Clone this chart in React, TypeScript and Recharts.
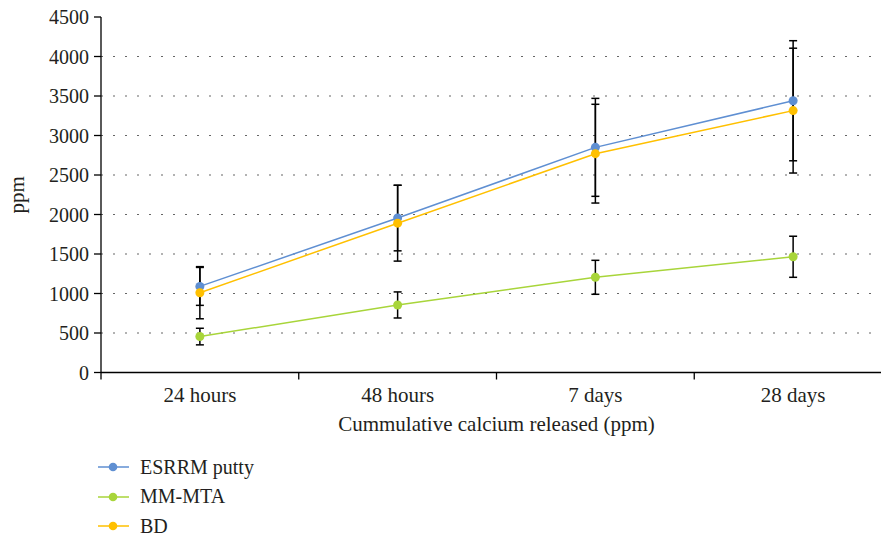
import { LineChart, Line, XAxis, YAxis, ReferenceLine, ErrorBar, Legend } from 'recharts';

const categories = ['24 hours', '48 hours', '7 days', '28 days'];
const esrrmPutty = [1090, 1955, 2850, 3440];
const esrrmErr = [240, 415, 620, 760];
const mmMta = [455, 855, 1205, 1465];
const mmMtaErr = [105, 165, 215, 260];
const bd = [1010, 1890, 2770, 3315];
const bdErr = [330, 480, 625, 790];
const yTicks = [0, 500, 1000, 1500, 2000, 2500, 3000, 3500, 4000, 4500];
const gridValues = [500, 1000, 1500, 2000, 2500, 3000, 3500, 4000];

const series = [
  { key: 'esrrm', err: 'esrrmErr', name: 'ESRRM putty', color: '#5f8fd2' },
  { key: 'mmMta', err: 'mmMtaErr', name: 'MM-MTA', color: '#a8d53a' },
  { key: 'bd', err: 'bdErr', name: 'BD', color: '#ffc000' },
];

const data = categories.map((c, i) => ({
  cat: c,
  esrrm: esrrmPutty[i],
  esrrmErr: esrrmErr[i],
  mmMta: mmMta[i],
  mmMtaErr: mmMtaErr[i],
  bd: bd[i],
  bdErr: bdErr[i],
}));

const CHART_W = 900;
const CHART_H = 537;
const Y_AXIS_W = 101;
const MARGIN = { top: 17, right: 8, bottom: 16, left: 0 };
const BAND = (CHART_W - Y_AXIS_W - MARGIN.left - MARGIN.right) / categories.length;
const TICK_SIZE = 7;
const TICK_MARGIN = 8;
const FONT = '"Liberation Serif", Tinos, "DejaVu Serif", serif';

function CategoryTick(props: any) {
  const { x, y, payload, index } = props;
  const axisY = y - TICK_SIZE - TICK_MARGIN;
  return (
    <g>
      <line x1={x - BAND / 2} x2={x - BAND / 2} y1={axisY} y2={axisY + 7} stroke="#000" strokeWidth={1.3} />
      {index === categories.length - 1 && (
        <line x1={x + BAND / 2} x2={x + BAND / 2} y1={axisY} y2={axisY + 7} stroke="#000" strokeWidth={1.3} />
      )}
      <text x={x} y={y} dy="0.71em" textAnchor="middle" fill="#231f20" fontSize={21} fontFamily={FONT}>
        {payload.value}
      </text>
    </g>
  );
}

function LegendContent() {
  return (
    <div style={{ fontFamily: FONT, fontSize: 20, color: '#231f20' }}>
      {series.map((s) => (
        <div key={s.key} style={{ height: 29.5, display: 'flex', alignItems: 'center' }}>
          <svg width={44} height={12} style={{ display: 'block' }}>
            <line x1={2} x2={33} y1={6} y2={6} stroke={s.color} strokeWidth={1.5} />
            <circle cx={17} cy={6} r={4.3} fill={s.color} />
          </svg>
          <span>{s.name}</span>
        </div>
      ))}
    </div>
  );
}

export default function App() {
  return (
    <div style={{ position: 'absolute', left: 0, top: 0, width: 881, height: 537, overflow: 'hidden', background: '#fff', fontFamily: FONT }}>
      <LineChart width={CHART_W} height={CHART_H} data={data} margin={MARGIN} style={{ fontFamily: FONT }}>
        {gridValues.map((v) => (
          <ReferenceLine key={v} y={v} stroke="#666" strokeWidth={1.2} strokeDasharray="2 10" />
        ))}
        <XAxis
          dataKey="cat"
          height={60}
          padding={{ left: BAND / 2, right: BAND / 2 }}
          tick={<CategoryTick />}
          tickSize={TICK_SIZE}
          tickMargin={TICK_MARGIN}
          tickLine={{ stroke: 'none' }}
          axisLine={{ stroke: '#000', strokeWidth: 1.3 }}
          interval={0}
          label={{ value: 'Cummulative calcium released (ppm)', position: 'insideBottom', offset: 2, fill: '#231f20', fontSize: 21, fontFamily: FONT }}
        />
        <YAxis
          width={Y_AXIS_W}
          domain={[0, 4500]}
          ticks={yTicks}
          interval={0}
          tickSize={TICK_SIZE}
          tickMargin={5}
          tick={{ fill: '#231f20', fontSize: 20, fontFamily: FONT }}
          tickLine={{ stroke: '#000', strokeWidth: 1.3 }}
          axisLine={{ stroke: '#000', strokeWidth: 1.3 }}
          label={{ value: 'ppm', angle: -90, position: 'insideLeft', offset: 17, fill: '#231f20', fontSize: 21, fontFamily: FONT, style: { textAnchor: 'middle' } }}
        />
        <Legend
          layout="vertical"
          align="center"
          verticalAlign="bottom"
          content={<LegendContent />}
          wrapperStyle={{ left: 96, bottom: -4, width: 220 }}
        />
        {series.map((s) => (
          <Line
            key={s.key}
            type="linear"
            dataKey={s.key}
            name={s.name}
            stroke={s.color}
            strokeWidth={1.5}
            dot={{ r: 4.5, fill: s.color, stroke: s.color, strokeWidth: 0 }}
            activeDot={false}
            isAnimationActive={false}
          >
            <ErrorBar dataKey={s.err} direction="y" width={4} stroke="#000" strokeWidth={1.5} />
          </Line>
        ))}
      </LineChart>
    </div>
  );
}
